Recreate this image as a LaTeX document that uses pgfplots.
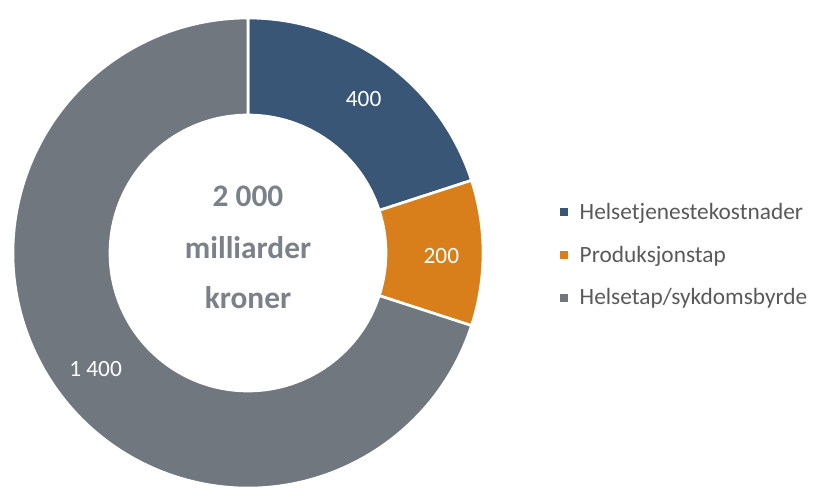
\documentclass[border=0pt]{standalone}
\usepackage{pgfplots}
\usepackage{pgfplotstable}
\pgfplotsset{compat=1.18}
\usepackage{fontspec}
\setmainfont{Carlito}
\definecolor{cblue}{RGB}{58,86,118}
\definecolor{corange}{RGB}{216,126,26}
\definecolor{cgray}{RGB}{112,119,127}
\definecolor{ctext}{RGB}{122,129,137}
\definecolor{clegend}{RGB}{89,89,89}

\pgfplotstableread[col sep=comma]{
label,value
Helsetjenestekostnader,400
Produksjonstap,200
Helsetap/sykdomsbyrde,1400
}\costs

\pgfplotstablegetelem{0}{value}\of\costs \edef\vA{\pgfplotsretval}
\pgfplotstablegetelem{1}{value}\of\costs \edef\vB{\pgfplotsretval}
\pgfplotstablegetelem{2}{value}\of\costs \edef\vC{\pgfplotsretval}
\pgfmathsetmacro\tot{\vA+\vB+\vC}
\pgfmathsetmacro\fA{\vA/\tot}
\pgfmathsetmacro\fB{\vB/\tot}
\pgfmathsetmacro\fC{\vC/\tot}
\pgfmathsetmacro\aA{90}
\pgfmathsetmacro\aB{\aA-360*\fA}
\pgfmathsetmacro\aC{\aB-360*\fB}
\pgfmathsetmacro\aD{\aC-360*\fC}
\pgfmathsetmacro\mA{(\aA+\aB)/2}
\pgfmathsetmacro\mB{(\aB+\aC)/2}
\pgfmathsetmacro\mC{(\aC+\aD)/2}
% radii in pt (1 px = 0.75 pt)
\def\Ro{176.25pt}
\def\Ri{103.5pt}
\def\Rl{145pt}

\newcommand{\slice}[3]{%
  \filldraw[fill=#1,draw=white,line width=2pt]
    ([shift={(#2:\Ro)}]C) arc[start angle=#2,end angle=#3,radius=\Ro]
    -- ([shift={(#3:\Ri)}]C) arc[start angle=#3,end angle=#2,radius=\Ri] -- cycle;}

\begin{document}
\begin{tikzpicture}
\begin{axis}[
  hide axis,
  x=0.75pt, y=0.75pt,
  xmin=0, xmax=817, ymin=0, ymax=487,
  legend style={draw=none, fill=none, at={(axis cs:556,232)}, anchor=west,
    font=\fontsize{17.5pt}{21pt}\selectfont, text=clegend, row sep=14.5pt,
    /tikz/every odd column/.append style={column sep=7pt}},
  legend cell align=left,
]
\coordinate (C) at (axis cs:248,234);
\coordinate (SW) at (axis cs:0,0);
\coordinate (NE) at (axis cs:817,487);
\slice{cblue}{\aA}{\aB}
\slice{corange}{\aB}{\aC}
\slice{cgray}{\aC}{\aD}
\node[white, yshift=-2pt, xshift=1.5pt, font=\fontsize{17.5pt}{21pt}\selectfont] at ([shift={(\mA:\Rl)}]C) {\pgfmathprintnumber[assume math mode=true,1000 sep={\ }]{\vA}};
\node[white, yshift=-2pt, font=\fontsize{17.5pt}{21pt}\selectfont] at ([shift={(\mB:\Rl)}]C) {\pgfmathprintnumber[assume math mode=true,1000 sep={\ }]{\vB}};
\node[white, yshift=-1.5pt, xshift=3pt, font=\fontsize{17.5pt}{21pt}\selectfont] at ([shift={(\mC:\Rl)}]C) {\pgfmathprintnumber[assume math mode=true,1000 sep={\ }]{\vC}};
\node[ctext, anchor=base, font=\fontsize{23.5pt}{26pt}\selectfont\bfseries] at (axis cs:248,281) {\pgfmathprintnumber[assume math mode=true,1000 sep={\ }]{\tot}};
\node[ctext, anchor=base, font=\fontsize{23.5pt}{26pt}\selectfont\bfseries] at (axis cs:248,229) {milliarder};
\node[ctext, anchor=base, font=\fontsize{23.5pt}{26pt}\selectfont\bfseries] at (axis cs:248,179) {kroner};
\addlegendimage{legend image code/.code={\fill[cblue] (0pt,-2.6pt) rectangle (5.2pt,2.6pt);}}
\addlegendentry{Helsetjenestekostnader}
\addlegendimage{legend image code/.code={\fill[corange] (0pt,-2.6pt) rectangle (5.2pt,2.6pt);}}
\addlegendentry{Produksjonstap}
\addlegendimage{legend image code/.code={\fill[cgray] (0pt,-2.6pt) rectangle (5.2pt,2.6pt);}}
\addlegendentry{Helsetap/sykdomsbyrde}
\end{axis}
\pgfresetboundingbox
\path (SW) rectangle (NE);
\end{tikzpicture}
\end{document}
